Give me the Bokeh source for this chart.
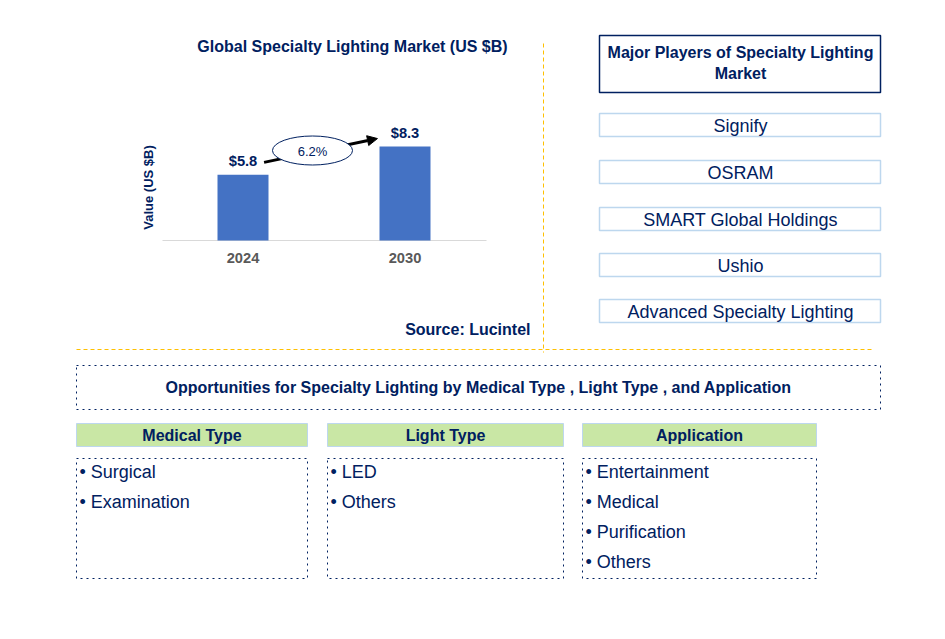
from math import pi
from bokeh.plotting import figure
from bokeh.models import Range1d, Arrow, NormalHead
from bokeh.core.properties import value
from bokeh.embed import file_html
from bokeh.resources import INLINE

# ---------------- data ----------------
years = ["2024", "2030"]
market_values = [5.8, 8.3]
value_labels = ["$5.8", "$8.3"]
cagr_label = "6.2%"
chart_title = "Global Specialty Lighting Market (US $B)"
y_label = "Value (US $B)"
source_label = "Source: Lucintel"

players_title = ["Major Players of Specialty Lighting", "Market"]
players = ["Signify", "OSRAM", "SMART Global Holdings", "Ushio", "Advanced Specialty Lighting"]

opportunities_title = "Opportunities for Specialty Lighting by Medical Type , Light Type , and Application"
segment_names = ["Medical Type", "Light Type", "Application"]
medical_type = ["Surgical", "Examination"]
light_type = ["LED", "Others"]
application = ["Entertainment", "Medical", "Purification", "Others"]

# ---------------- styles ----------------
NAVY = "#002060"
BAR = "#4472C4"
ORANGE = "#FFC000"
LIGHTBLUE = "#BDD7EE"
GREEN = "#C9E7A5"
FONT = value("Liberation Sans")

W, H = 929, 623
p = figure(width=W, height=H, x_range=Range1d(0, W), y_range=Range1d(H, 0),
           output_backend="svg", toolbar_location=None, min_border=0,
           x_axis_location=None, y_axis_location=None)
p.grid.visible = False
p.outline_line_color = None
p.background_fill_color = "white"
p.border_fill_color = "white"

# bar-chart scales: index of year on x, US $B on y
px_per_cat = 162.0
x0_px = 242.5
px_per_unit = 94.0 / 8.3
base_px = 240.0
p.extra_x_ranges = {"bx": Range1d(-x0_px / px_per_cat, (W - x0_px) / px_per_cat)}
p.extra_y_ranges = {"by": Range1d(-(H - base_px) / px_per_unit, base_px / px_per_unit)}

idx = list(range(len(years)))

def txt(x, y, t, size, color=NAVY, bold=False, align="center", **kw):
    p.text(x=x, y=y, text=t, text_font=FONT, text_font_size=size,
           text_font_style="bold" if bold else "normal", text_color=color,
           text_align=align, text_baseline="middle", **kw)

# --- chart ---
txt([352], [46], [chart_title], "16px", bold=True)
txt([148], [187], [y_label], "13px", bold=True, angle=pi / 2)

p.segment(x0=[162], y0=[base_px], x1=[486], y1=[base_px], line_color="#D9D9D9", line_width=1.2)
p.vbar(x=idx, top=market_values, bottom=0, width=51 / px_per_cat, fill_color=BAR,
       line_color=None, x_range_name="bx", y_range_name="by")
p.text(x=idx, y=market_values, text=value_labels, text_font=FONT, text_font_size="14.7px",
       text_font_style="bold", text_color=NAVY, text_align="center", text_baseline="middle",
       y_offset=-14, x_range_name="bx", y_range_name="by")
p.text(x=idx, y=[0, 0], text=years, text_font=FONT, text_font_size="14.7px",
       text_font_style="bold", text_color="#595959", text_align="center", text_baseline="middle",
       y_offset=17, x_range_name="bx", y_range_name="by")

p.add_layout(Arrow(end=NormalHead(size=10, fill_color="black", line_color="black"),
                   x_start=0.13, y_start=6.9, x_end=0.83, y_end=9.0,
                   line_color="black", line_width=3, level="underlay",
                   x_range_name="bx", y_range_name="by"))
p.ellipse(x=[312], y=[150], width=80, height=29, fill_color="white",
          line_color=NAVY, line_width=1)
txt([312], [151], [cagr_label], "13px")

txt([530], [329], [source_label], "16px", bold=True, align="right")

# dividers
p.segment(x0=[543], y0=[43], x1=[543], y1=[352], line_color=ORANGE, line_width=1, line_dash="4 3")
p.segment(x0=[76], y0=[349], x1=[871], y1=[349], line_color=ORANGE, line_width=1, line_dash="4 3")

# --- players panel ---
p.quad(left=[599], right=[880], top=[35], bottom=[92], fill_color="white",
       line_color=NAVY, line_width=1.5)
txt([740, 740], [52, 73], players_title, "16px", bold=True)
box_tops = [113, 160, 207, 253, 299]
box_h = 23
p.quad(left=[599] * len(players), right=[880] * len(players), top=box_tops,
       bottom=[t + box_h for t in box_tops], fill_color="white",
       line_color=LIGHTBLUE, line_width=1.5)
txt([740] * len(players), [t + box_h / 2 + 1 for t in box_tops], players, "18px")

# --- opportunities ---
p.quad(left=[76], right=[880], top=[365], bottom=[409], fill_color="white",
       line_color=NAVY, line_width=1, line_dash="dotted")
txt([478], [387], [opportunities_title], "16px", bold=True)

col_left = [76, 327, 582]
col_right = [307, 563, 816]
p.quad(left=col_left, right=col_right, top=[423] * 3, bottom=[446] * 3,
       fill_color=GREEN, line_color=LIGHTBLUE, line_width=1)
txt([(l + r) / 2 for l, r in zip(col_left, col_right)], [435] * 3, segment_names, "16px", bold=True)
p.quad(left=col_left, right=col_right, top=[458] * 3, bottom=[578] * 3,
       fill_color="white", line_color=NAVY, line_width=1, line_dash="dotted")

for left, items in zip(col_left, [medical_type, light_type, application]):
    txt([left + 3] * len(items), [471 + 30 * i for i in range(len(items))],
        ["\u2022 " + s for s in items], "18px", align="left")

open("out.html", "w").write(file_html(p, INLINE))
